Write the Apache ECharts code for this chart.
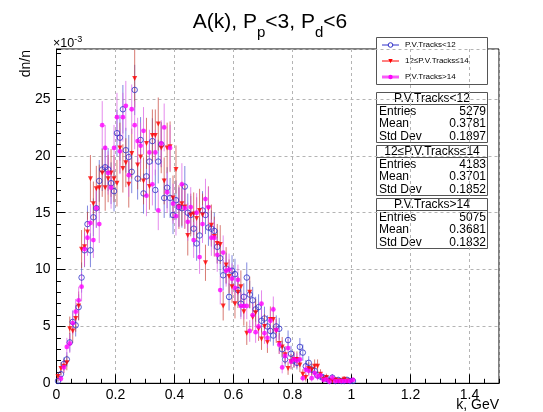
<!DOCTYPE html>
<html><head><meta charset="utf-8">
<script src="https://cdn.jsdelivr.net/npm/echarts@6/dist/echarts.min.js"></script>
<style>html,body{margin:0;padding:0;background:#fff}#c{width:543px;height:412px}</style>
</head><body><div id="c"></div>
<script>
// ---- data (dn/n in units of 1e-3), bins of width 0.01 GeV starting at k = 0 ----
const binWidth = 0.01;
const seriesNames = ['P.V.Tracks<12', '12\u2264P.V.Tracks\u226414', 'P.V.Tracks>14'];
const entries = [5279, 4183, 5075];
const means = ['0.3781', '0.3701', '0.3681'];
const stdDevs = ['0.1897', '0.1852', '0.1832'];

const tracksLow = [0.2,0.8,1.7,2.1,3.6,5.4,5.1,6.7,9.3,11.7,
  14.0,11.7,14.6,15.4,17.8,18.8,19.0,18.8,17.6,16.9,
  22.0,21.6,24.1,20.5,19.9,18.6,25.8,18.0,21.4,16.7,
  18.2,19.5,21.3,17.0,19.5,21.0,16.3,17.2,16.3,14.8,
  16.1,15.5,15.4,17.3,15.0,14.8,13.6,12.3,13.0,15.2,
  14.8,13.7,13.6,13.4,12.0,11.0,9.5,10.1,7.6,9.9,
  9.6,8.2,7.0,7.6,9.3,7.8,7.3,6.5,6.7,5.5,
  5.7,5.0,4.6,4.2,5.0,4.8,3.0,2.1,3.8,2.6,
  2.0,1.8,3.2,2.7,1.5,1.8,1.2,1.1,0.7,0.6,
  0.5,0.4,0.2,0.5,0.2,0.3,0.2,0.2,0.3,0.2,
  0.2];
const tracksMid = [0.6,1.3,1.5,1.8,4.8,4.6,5.7,6.8,11.8,12.0,
  13.3,18.0,15.8,17.1,17.2,18.5,17.2,18.0,18.5,18.0,
  17.6,20.7,18.9,19.4,17.5,20.2,26.8,19.2,19.9,17.8,
  21.1,17.3,21.8,21.8,22.8,20.7,17.8,20.7,20.8,16.3,
  18.8,15.5,15.8,15.5,13.0,14.8,14.9,14.5,15.2,14.8,
  10.6,15.4,13.9,12.9,12.3,12.2,6.8,10.4,9.4,8.5,
  7.0,8.0,8.5,6.3,4.4,8.0,5.8,6.2,4.8,3.9,
  5.0,3.6,5.6,5.6,4.6,3.5,3.2,2.5,1.3,1.9,
  2.1,2.1,1.6,0.8,0.5,1.3,1.2,1.5,1.5,0.8,
  0.35,0.5,0.2,0.2,0.3,0.2,0.2,0.35,0.2,null,
  null];
const tracksHigh = [null,0.4,1.4,3.2,3.5,5.3,6.3,7.3,8.5,11.8,
  12.8,14.1,12.6,15.4,14.0,22.7,20.7,18.5,17.2,20.7,
  23.4,20.4,23.4,24.4,18.3,24.1,22.7,21.3,20.9,22.2,
  16.5,20.3,17.5,20.3,15.2,21.1,22.5,16.8,20.7,15.8,
  14.7,15.5,17.5,15.4,14.2,15.5,12.6,15.0,11.1,14.0,
  16.2,15.5,12.8,12.8,11.3,8.2,11.5,9.9,10.0,9.2,
  8.4,9.1,6.8,6.8,6.8,4.6,6.0,4.5,5.0,7.0,
  4.4,4.0,5.5,6.5,4.7,3.4,1.4,2.4,3.1,1.9,
  2.1,2.0,2.1,0.45,1.2,1.1,0.45,0.9,0.6,0.7,
  0.3,0.35,0.15,0.5,0.2,0.2,0.2,0.2,0.2,0.2,
  0.3];

const xTickLabels = ['0','0.2','0.4','0.6','0.8','1','1.2','1.4'];
const yTickLabels = ['0','5','10','15','20','25'];
// title pieces: [text, isSubscript]
const titleParts = [['A(k), P',0],['p',1],['<3, P',0],['d',1],['<6',0]];

// ---- build ----
const FONT = '"Liberation Sans", Arial, Helvetica, sans-serif';
const colors = {
  blue: {mark:'#3030c8', bar:'rgba(80,90,210,0.72)'},
  red: {mark:'#ff0000', bar:'rgba(200,70,60,0.72)'},
  mag: {mark:'#ff00ff', bar:'rgba(220,100,230,0.75)'}
};
const mctx = document.createElement('canvas').getContext('2d');
function textW(t, size){ mctx.font = size + 'px ' + FONT; return mctx.measureText(t).width; }

function pts(vals){
  const out = [];
  vals.forEach((v,i)=>{ if(v!=null) out.push([(i+0.5)*binWidth, v]); });
  return out;
}
function errs(vals, N){
  const out = [];
  vals.forEach((v,i)=>{ if(v!=null){ const e = Math.sqrt(v*1000/N); out.push([(i+0.5)*binWidth, Math.max(0,v-e), v+e]); }});
  return out;
}
function errSeries(vals, N, color){
  return {
    type:'custom', data: errs(vals,N), clip:true, silent:true,
    encode:{x:0, y:[1,2]},
    renderItem(params, api){
      const a = api.coord([api.value(0), api.value(1)]);
      const b = api.coord([api.value(0), api.value(2)]);
      return {type:'line', shape:{x1:a[0],y1:a[1],x2:b[0],y2:b[1]}, style:{stroke:color, lineWidth:1}};
    }
  };
}

const chart = echarts.init(document.getElementById('c'), null, {renderer:'canvas'});

const graphics = [];
// title built from pieces (main + subscripts)
const MAIN = 21, SUB = 15;
let total = 0;
titleParts.forEach(p=>{ total += textW(p[0], p[1]?SUB:MAIN); });
let tx = 270 - total/2;
titleParts.forEach(p=>{
  const size = p[1]?SUB:MAIN;
  graphics.push({type:'text', x:tx, y:p[1]?32.8:22.7,
    style:{text:p[0], font:size+'px '+FONT, fill:'#000', textVerticalAlign:'middle'}});
  tx += textW(p[0], size);
});
// y-axis title, multiplier, x-axis title
graphics.push({type:'text', x:26, y:50, rotation:Math.PI/2,
  style:{text:'dn/n', font:'14px '+FONT, fill:'#000', textAlign:'right', textVerticalAlign:'middle'}});
const mulMain = '\u00d710', mulExp = '-3';
graphics.push({type:'text', x:53, y:44, style:{text:mulMain, font:'12.5px '+FONT, fill:'#000', textVerticalAlign:'middle'}});
graphics.push({type:'text', x:53 + textW(mulMain,12.5), y:39.5, style:{text:mulExp, font:'9px '+FONT, fill:'#000', textVerticalAlign:'middle'}});
graphics.push({type:'text', x:499, y:405,
  style:{text:'k, GeV', font:'14px '+FONT, fill:'#000', textAlign:'right', textVerticalAlign:'middle'}});

// legend box
const legY = [45, 61, 77];
const legColors = [colors.blue.mark, colors.red.mark, colors.mag.mark];
graphics.push({type:'rect', shape:{x:376.5, y:37.5, width:111, height:47}, style:{fill:'#fff', stroke:'#555', lineWidth:1}});
legY.forEach((y,i)=>{
  if(i===2) graphics.push({type:'line', shape:{x1:382,y1:y,x2:399,y2:y}, style:{stroke:'#f6b4f6', lineWidth:4}});
  graphics.push({type:'line', shape:{x1:382,y1:y,x2:399,y2:y}, style:{stroke:legColors[i], lineWidth:1}});
  if(i===0) graphics.push({type:'circle', shape:{cx:390.5, cy:y, r:2.3}, style:{fill:'#fff', stroke:legColors[i], lineWidth:1}});
  if(i===1) graphics.push({type:'polygon', shape:{points:[[388.3,y-2],[392.7,y-2],[390.5,y+2.3]]}, style:{fill:legColors[i]}});
  if(i===2) graphics.push({type:'circle', shape:{cx:390.5, cy:y, r:2.2}, style:{fill:legColors[i]}});
  graphics.push({type:'text', x:405, y:y, style:{text:seriesNames[i], font:'8px '+FONT, fill:'#000', textVerticalAlign:'middle'}});
});

// stats boxes
const boxTops = [92, 145, 198];
boxTops.forEach((t,i)=>{
  graphics.push({type:'rect', shape:{x:376.5, y:t+0.5, width:111, height:50}, style:{fill:'#fff', stroke:'#555', lineWidth:1}});
  graphics.push({type:'line', shape:{x1:376.5, y1:t+12.5, x2:487.5, y2:t+12.5}, style:{stroke:'#555', lineWidth:1}});
  graphics.push({type:'text', x:432, y:t+6.8, style:{text:seriesNames[i], font:'12px '+FONT, fill:'#000', textAlign:'center', textVerticalAlign:'middle'}});
  const rows = [['Entries', String(entries[i])], ['Mean', means[i]], ['Std Dev', stdDevs[i]]];
  rows.forEach((r,j)=>{
    const yy = t + 19.5 + j*12.6;
    graphics.push({type:'text', x:379, y:yy, style:{text:r[0], font:'12px '+FONT, fill:'#000', textVerticalAlign:'middle'}});
    graphics.push({type:'text', x:486, y:yy, style:{text:r[1], font:'12px '+FONT, fill:'#000', textAlign:'right', textVerticalAlign:'middle'}});
  });
});

const gridLine = {show:true, lineStyle:{color:'#b4b4b4', type:[3,3], width:1}};

const option = {
  backgroundColor:'#fff',
  animation:false,
  grid:{left:56.5, right:44, top:49, bottom:28.7, show:true, borderColor:'#000', borderWidth:1, backgroundColor:'transparent'},
  xAxis:[{
    type:'value', min:0, max:1.5, interval:0.2,
    axisLine:{show:true, onZero:false, lineStyle:{color:'#000', width:1}},
    axisTick:{show:true, inside:true, length:9, lineStyle:{color:'#000'}},
    axisLabel:{show:true, showMaxLabel:false, margin:5, color:'#000', fontSize:14, fontFamily:FONT,
      formatter:(v)=>{ const i = Math.round(v/0.2); return Math.abs(v-i*0.2)<1e-6 ? xTickLabels[i] : ''; }},
    splitLine:gridLine
  },{
    type:'value', min:0, max:1.5, interval:0.05, position:'bottom',
    axisLine:{show:false}, axisLabel:{show:false}, splitLine:{show:false},
    axisTick:{show:true, inside:true, length:4.5, lineStyle:{color:'#000'}}
  }],
  yAxis:[{
    type:'value', min:0, max:29.4, interval:5,
    axisLine:{show:true, onZero:false, lineStyle:{color:'#000', width:1}},
    axisTick:{show:true, inside:true, length:9, lineStyle:{color:'#000'}},
    axisLabel:{show:true, showMaxLabel:false, margin:6, color:'#000', fontSize:14, fontFamily:FONT,
      formatter:(v)=>{ const i = Math.round(v/5); return Math.abs(v-i*5)<1e-6 && yTickLabels[i]!==undefined ? yTickLabels[i] : ''; }},
    splitLine:gridLine
  },{
    type:'value', min:0, max:29.4, interval:1, position:'left',
    axisLine:{show:false}, axisLabel:{show:false}, splitLine:{show:false},
    axisTick:{show:true, inside:true, length:4.5, lineStyle:{color:'#000'}}
  }],
  series:[
    errSeries(tracksLow, entries[0], colors.blue.bar),
    {type:'scatter', data:pts(tracksLow), symbol:'circle', symbolSize:5.5, silent:true,
      itemStyle:{color:'rgba(255,255,255,0)', borderColor:colors.blue.mark, borderWidth:1}},
    errSeries(tracksMid, entries[1], colors.red.bar),
    {type:'scatter', data:pts(tracksMid), symbol:'triangle', symbolRotate:180, symbolSize:5, silent:true,
      itemStyle:{color:colors.red.mark}},
    errSeries(tracksHigh, entries[2], colors.mag.bar),
    {type:'scatter', data:pts(tracksHigh), symbol:'circle', symbolSize:4.8, silent:true,
      itemStyle:{color:colors.mag.mark}}
  ],
  graphic: graphics
};
chart.setOption(option);
</script>
</body></html>
